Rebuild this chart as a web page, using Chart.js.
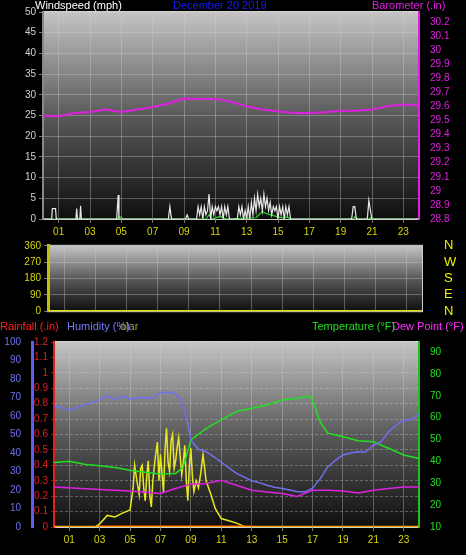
<!DOCTYPE html>
<html>
<head>
<meta charset="utf-8">
<script src="https://cdn.jsdelivr.net/npm/chart.js@4"></script>
<style>
  body { margin: 0; background: #000; width: 466px; height: 555px; overflow: hidden; font-family: 'Liberation Sans', Arial, sans-serif; }
  .box { position: absolute; left: 0; width: 466px; }
  .lbl { position: absolute; font-size: 11px; line-height: 11px; white-space: nowrap; }
</style>
</head>
<body>
<div class="box" style="top:0;height:242px"><canvas id="windChart"></canvas></div>
<div class="box" style="top:224px;height:109px"><canvas id="dirChart"></canvas></div>
<div class="box" style="top:320px;height:235px"><canvas id="climChart"></canvas></div>

<div class="lbl" style="left:35px;top:0px;color:#fff">Windspeed (mph)</div>
<div class="lbl" style="left:173px;top:0px;color:#1a1aff">December 20 2019</div>
<div class="lbl" style="left:372px;top:0px;color:#e020e0">Barometer (.in)</div>
<div class="lbl" style="left:0px;top:321px;color:#ff2020">Rainfall (.in)</div>
<div class="lbl" style="left:67px;top:321px;color:#7878ff">Humidity (%)</div>
<div class="lbl" style="left:120px;top:321px;color:#a0a040">olar</div>
<div class="lbl" style="left:312px;top:321px;color:#20e020">Temperature (°F)</div>
<div class="lbl" style="left:392px;top:321px;color:#ff30ff">Dew Point (°F)</div>

<script>
// ---- donnees ----
const hourTicks = [1, 3, 5, 7, 9, 11, 13, 15, 17, 19, 21, 23];

const baroHours = [0, 1, 2, 3, 4, 5, 6, 7, 8, 9, 10, 11, 12, 13, 14, 15, 16, 17, 18, 19, 20, 21, 22, 23, 24];
const baroValues = [29.535, 29.53, 29.553, 29.56, 29.577, 29.56, 29.577, 29.596, 29.62, 29.656, 29.653, 29.653, 29.632, 29.6, 29.577, 29.566, 29.553, 29.553, 29.558, 29.568, 29.568, 29.577, 29.6, 29.613, 29.608];

const gustHours = [0, 0.55, 0.6, 0.8, 0.85, 2.1, 2.15, 2.2, 2.35, 2.4, 2.45, 4.7, 4.8, 4.85, 8.0, 8.1, 8.2, 9.1, 9.2, 9.3, 9.8, 9.9, 10.0, 10.1, 10.2, 10.3, 10.4, 10.5, 10.6, 10.7, 10.8, 10.9, 11.0, 11.1, 11.2, 11.3, 11.4, 11.5, 11.6, 11.7, 11.8, 11.9, 12.4, 12.5, 12.6, 12.7, 12.8, 12.9, 13.0, 13.1, 13.2, 13.3, 13.4, 13.5, 13.6, 13.7, 13.8, 13.9, 14.0, 14.1, 14.2, 14.3, 14.4, 14.5, 14.6, 14.7, 14.8, 14.9, 15.0, 15.1, 15.2, 15.3, 15.4, 15.5, 15.6, 15.7, 15.8, 19.7, 19.8, 19.9, 20.0, 20.7, 20.8, 20.9, 21.0, 24];
const gustValues = [0, 0, 2.5, 2.5, 0, 0, 2.5, 0, 0, 3.2, 0, 0, 5.8, 0, 0, 3, 0, 0, 1, 0, 0, 3, 1, 3, 0, 3, 1, 2, 6, 0, 3, 1, 3, 2, 3, 1, 3, 0, 3, 1, 3, 0, 0, 3, 1, 3, 0, 2, 0, 3, 0, 4, 1, 5, 2, 6, 3, 5, 2, 6, 3, 5, 2, 4, 1, 3, 2, 3, 0, 3, 1, 3, 0, 3, 1, 3, 0, 0, 3, 3, 0, 0, 4.5, 2, 0, 0];

const avgHours = [0, 4.7, 4.9, 5.1, 10.4, 10.6, 10.8, 11.2, 11.4, 11.7, 13.6, 14.0, 14.3, 14.7, 15.0, 15.3, 15.6, 15.8, 19.8, 19.9, 20.1, 20.8, 20.9, 21.0, 24];
const avgValues = [0, 0, 0.6, 0, 0, 1.0, 0, 0.5, 0.5, 0, 0.3, 1.8, 1.2, 0.8, 0.5, 0.2, 0.5, 0, 0, 0.5, 0, 0, 0.3, 0, 0];

const dirHours = [0, 24];
const dirValues = [0, 0];

const climHours = [0, 0.5, 1, 1.5, 2, 2.5, 3, 3.5, 4, 4.5, 5, 5.5, 6, 6.5, 7, 7.8, 8.3, 8.7, 9, 9.5, 10, 10.5, 11, 11.5, 12, 12.5, 13, 13.5, 14, 14.5, 15, 15.5, 16, 16.5, 17, 17.5, 18, 18.5, 19, 19.5, 20, 20.5, 21, 21.5, 22, 22.5, 23, 23.5, 24];
const humidityValues = [65.5, 64.5, 63.3, 64.5, 66, 67.5, 68.7, 71, 68.7, 71, 69, 70, 69.6, 69.6, 72.7, 72.7, 69.6, 59.7, 47, 42, 40.7, 38, 35, 32, 29, 27, 25, 24, 22.6, 21.5, 20.8, 20, 19, 19, 21, 26, 32.5, 36, 38.9, 40, 40.7, 40.5, 44.3, 46, 51.5, 55, 57.9, 58, 61];

const tempHours = [0, 1, 2, 3, 4, 5, 6, 7, 8, 8.5, 9, 10, 11, 12, 13, 14, 15, 16, 16.8, 17, 17.5, 18, 19, 20, 21, 22, 23, 24];
const tempValues = [39.5, 40.1, 38.7, 38, 37.2, 36, 35, 34.2, 34.5, 37.5, 49.8, 55, 59, 62.8, 64.3, 65.8, 68.1, 68.9, 70, 68, 58, 52.9, 51.3, 49.4, 49, 46, 42.9, 41.3];

const dewHours = [0, 3, 5, 7, 8, 9, 10, 11, 12, 13, 14, 15, 16, 17, 18, 19, 20, 21, 22, 23, 24];
const dewValues = [28.3, 27.1, 26.5, 25.3, 27.6, 29.6, 29.9, 31.4, 29.1, 26.8, 26, 25.3, 24, 26.8, 26.8, 26.5, 25.6, 26.8, 27.6, 28.3, 28.3];

const solarHours = [0, 2.7, 3, 3.5, 4, 4.5, 5, 5.2, 5.3, 5.45, 5.6, 5.7, 5.8, 5.9, 6, 6.1, 6.2, 6.3, 6.4, 6.5, 6.6, 6.7, 6.8, 6.9, 7, 7.1, 7.2, 7.3, 7.4, 7.5, 7.6, 7.7, 7.8, 7.9, 8, 8.1, 8.2, 8.3, 8.4, 8.5, 8.6, 8.7, 8.8, 8.9, 9, 9.1, 9.2, 9.35, 9.5, 9.65, 9.8, 10, 10.3, 10.6, 11, 11.5, 12, 12.6, 24];
const solarValues = [0, 0, 20, 75, 65, 90, 110, 250, 400, 300, 210, 380, 400, 250, 170, 330, 430, 200, 130, 300, 400, 480, 550, 300, 470, 350, 225, 500, 640, 420, 360, 560, 600, 380, 430, 520, 580, 450, 340, 420, 530, 300, 170, 400, 510, 330, 230, 300, 255, 350, 470, 300, 215, 120, 55, 40, 25, 0, 0];

const rainHours = [0, 24];
const rainValues = [0, 0];

// ---- styles communs ----
const GRID = 'rgba(210,210,210,0.35)';
const XLAB = '#d8d800';
const FONT = { family: "'Liberation Sans', Arial, sans-serif", size: 10 };

const plotBackground = {
    id: 'plotBackground',
    beforeDraw(chart) {
        const a = chart.chartArea;
        const c = chart.ctx;
        const g = c.createLinearGradient(0, a.top, 0, a.bottom);
        g.addColorStop(0, '#c4c4c4');
        g.addColorStop(0.5, '#5a5a5a');
        g.addColorStop(1, '#0e0e0e');
        c.save();
        c.fillStyle = g;
        c.fillRect(a.left, a.top, a.right - a.left, a.bottom - a.top);
        c.strokeStyle = '#d0d0d0';
        c.lineWidth = 1;
        c.strokeRect(a.left - 0.5, a.top - 0.5, a.right - a.left + 1, a.bottom - a.top + 1);
        c.restore();
    }
};

// grille verticale quand l'axe x est masque
const hourGrid = {
    id: 'hourGrid',
    beforeDatasetsDraw(chart) {
        const x = chart.scales.x;
        const a = chart.chartArea;
        const c = chart.ctx;
        c.save();
        c.strokeStyle = GRID;
        c.lineWidth = 1;
        hourTicks.forEach(h => {
            const px = Math.round(x.getPixelForValue(h)) + 0.5;
            c.beginPath();
            c.moveTo(px, a.top);
            c.lineTo(px, a.bottom);
            c.stroke();
        });
        c.restore();
    }
};

function pts(xs, ys) {
    return xs.map((x, i) => ({ x: x, y: ys[i] }));
}

function line(label, xs, ys, color, axis, width) {
    return {
        label: label,
        data: pts(xs, ys),
        borderColor: color,
        borderWidth: width || 1.5,
        pointRadius: 0,
        tension: 0,
        yAxisID: axis
    };
}

function fixedTicks(list) {
    return function(scale) { scale.ticks = list.map(v => ({ value: v })); };
}

function range(a, b, s) {
    const r = [];
    for (let v = a; v <= b + 1e-9; v += s) r.push(Math.round(v * 100) / 100);
    return r;
}

function xAxis(height) {
    return {
        type: 'linear', min: 0, max: 24,
        afterBuildTicks: fixedTicks(hourTicks),
        afterFit: s => { s.height = height; },
        grid: { color: GRID, tickLength: 4, tickColor: '#777' },
        border: { display: false },
        ticks: {
            autoSkip: false, maxRotation: 0, color: XLAB, font: FONT, padding: 3,
            callback: v => String(v).padStart(2, '0')
        }
    };
}

function yAxis(pos, min, max, tickList, color, width, extra) {
    return Object.assign({
        position: pos, min: min, max: max,
        afterBuildTicks: fixedTicks(tickList),
        afterFit: s => { s.width = width; },
        grid: { display: false },
        border: { color: '#888', width: 2 },
        ticks: { autoSkip: false, color: color, font: FONT, padding: 3, callback: v => String(Number(v.toFixed(2))) }
    }, extra || {});
}

const baseOptions = {
    responsive: true,
    maintainAspectRatio: false,
    animation: false,
    plugins: { legend: { display: false }, tooltip: { enabled: false } }
};

// ---- graphique vent / barometre ----
new Chart(document.getElementById('windChart'), {
    type: 'line',
    data: {
        datasets: [
            line('Barometer', baroHours, baroValues, '#e020e0', 'baro', 2),
            line('Gust', gustHours, gustValues, '#e8e8e8', 'wind', 1.2),
            line('Wind', avgHours, avgValues, '#20e020', 'wind', 1.2)
        ]
    },
    options: Object.assign({}, baseOptions, {
        layout: { padding: { top: 12, left: 0, right: 0, bottom: 0 } },
        scales: {
            x: xAxis(23),
            wind: Object.assign(yAxis('left', 0, 50, range(0, 50, 5), '#d0d0d0', 43), {
                grid: { color: GRID, tickLength: 4, tickColor: '#777' }
            }),
            baro: yAxis('right', 28.8, 30.27, range(28.8, 30.2, 0.1), '#e020e0', 47, { border: { color: '#e020e0', width: 2 } })
        }
    }),
    plugins: [plotBackground]
});

// ---- direction du vent ----
const compass = { 0: 'N', 90: 'E', 180: 'S', 270: 'W', 360: 'N' };
new Chart(document.getElementById('dirChart'), {
    type: 'line',
    data: {
        datasets: [line('Direction', dirHours, dirValues, '#e0e000', 'dir', 2.5)]
    },
    options: Object.assign({}, baseOptions, {
        layout: { padding: { top: 0, left: 0, right: 0, bottom: 0 } },
        scales: {
            x: { type: 'linear', min: 0, max: 24, display: false },
            dir: Object.assign(yAxis('left', 0, 360, [0, 90, 180, 270, 360], '#d8d800', 48), {
                grid: { color: GRID, tickLength: 4, tickColor: '#777' },
                border: { color: '#c0c000', width: 3 }
            }),
            compass: yAxis('right', 0, 360, [0, 90, 180, 270, 360], '#f0f000', 44, {
                border: { display: false },
                ticks: { autoSkip: false, color: '#f0f000', font: { family: FONT.family, size: 13 }, padding: 14, callback: v => compass[v] }
            })
        }
    }),
    plugins: [plotBackground, hourGrid]
});

// ---- climat ----
new Chart(document.getElementById('climChart'), {
    type: 'line',
    data: {
        datasets: [
            line('Rain', rainHours, rainValues, '#ffa000', 'rain', 2.5),
            line('Rainfall', [3, 13], rainValues, '#ff0000', 'rain', 3),
            line('Humidity', climHours, humidityValues, '#7070f0', 'hum', 1.5),
            line('Temperature', tempHours, tempValues, '#20e020', 'temp', 1.5),
            line('Dew Point', dewHours, dewValues, '#e020e0', 'temp', 1.5),
            line('Solar', solarHours, solarValues, '#e8e820', 'solar', 1.5)
        ]
    },
    options: Object.assign({}, baseOptions, {
        layout: { padding: { top: 22, left: 0, right: 0, bottom: 0 } },
        scales: {
            x: xAxis(28),
            rain: Object.assign(yAxis('left', 0, 1.2, range(0, 1.2, 0.1), '#e02020', 22, { border: { color: '#e02020', width: 2, dash: [3, 2] } }), {
                grid: { color: GRID, tickLength: 3, tickColor: '#c00' }
            }),
            hum: yAxis('left', 0, 100, range(0, 100, 10), '#7070f0', 32, { border: { color: '#6060f0', width: 3 } }),
            temp: yAxis('right', 10, 94.6, range(10, 90, 10), '#20e020', 47, { border: { color: '#20c020', width: 2 } }),
            solar: { display: false, min: 0, max: 1200 }
        }
    }),
    plugins: [plotBackground]
});
</script>
</body>
</html>
